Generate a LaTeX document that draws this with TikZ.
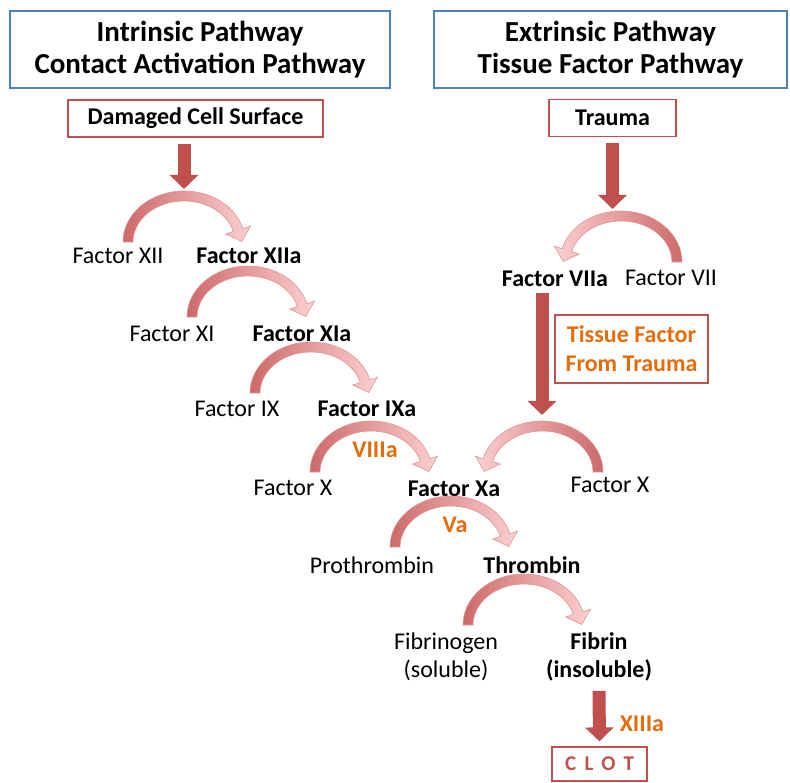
\documentclass[tikz,border=0pt]{standalone}
\usepackage{fontspec}
\setmainfont{Carlito}
\usetikzlibrary{arrows.meta,calc}
\definecolor{cblue}{RGB}{79,129,189}
\definecolor{cred}{RGB}{192,80,77}
\definecolor{corange}{RGB}{228,108,10}
\definecolor{carcdark}{RGB}{205,105,105}
\definecolor{carclight}{RGB}{252,208,208}
\definecolor{carcedge}{RGB}{222,150,150}

\tikzset{
  arcshade/.style={left color=carcdark, right color=carclight},
  arcmirror/.style={xscale=-1, arcshade/.style={left color=carclight, right color=carcdark}},
  bend/.pic={
    \shade[arcshade, draw=carcedge, line width=0.6pt]
      (-5,0) arc[start angle=180, end angle=15, x radius=61, y radius=51]
      -- (122.5,15.9) -- (113.8,0.5) -- (97.7,7.9) -- (105.3,10.6)
      arc[start angle=15, end angle=180, x radius=51, y radius=41] -- cycle;
    \coordinate (-top) at (56,51);
  }
}

\begin{document}
\begin{tikzpicture}[x=1pt, y=1pt,
    title/.style={draw=cblue, line width=1.6pt, minimum height=77pt, align=center,
      font=\bfseries\fontsize{29}{32}\selectfont},
    cause/.style={draw=cred, line width=1.2pt, minimum height=37pt,
      font=\bfseries\fontsize{24}{29}\selectfont},
    factor/.style={anchor=base, inner sep=2pt, align=center, font=\fontsize{24}{28}\selectfont},
    active/.style={factor, font=\bfseries\fontsize{24}{28}\selectfont},
    tag/.style={anchor=base, inner sep=2pt, text=corange, font=\bfseries\fontsize{24}{29}\selectfont},
    blockarrow/.style={draw=cred, line width=13pt, -{Triangle[length=14pt, width=28pt]}}]
  \useasboundingbox (0,0) rectangle (790,-783);

  % pathway headers
  \node[title, minimum width=380pt] (intr) at (200,-49.5) {Intrinsic Pathway\\Contact Activation Pathway};
  \node[title, minimum width=353pt] (extr) at (610.5,-49.5) {Extrinsic Pathway\\Tissue Factor Pathway};
  \node[cause, minimum width=255pt] (dcs) at (195.5,-118.5) {Damaged Cell Surface};
  \node[cause, minimum width=127pt] (trauma) at (612.5,-118) {Trauma};

  % intrinsic cascade
  \node[factor] (xii) at (118,-264) {Factor XII};
  \node[active] (xiia) at (249,-264) {Factor XIIa};
  \node[factor] (xi) at (172,-342) {Factor XI};
  \node[active] (xia) at (302,-342) {Factor XIa};
  \node[factor] (ix) at (237,-417) {Factor IX};
  \node[active] (ixa) at (367,-417) {Factor IXa};
  \node[factor] (xl) at (293,-495) {Factor X};
  \node[active] (xa) at (454,-496) {Factor Xa};
  \node[tag] (viiia) at (375,-457) {VIIIa};

  % extrinsic cascade
  \node[active] (viia) at (555,-287) {Factor VIIa};
  \node[factor] (vii) at (671,-286) {Factor VII};
  \node[factor] (xr) at (610,-493) {Factor X};
  \node[draw=cred, line width=1.2pt, minimum width=153pt, minimum height=68pt, align=center,
    text=corange, font=\bfseries\fontsize{24}{29}\selectfont] (tissue) at (631.5,-349) {Tissue Factor\\From Trauma};

  % common pathway
  \node[tag] (va) at (455,-532) {Va};
  \node[factor] (proth) at (372,-573) {Prothrombin};
  \node[active] (thromb) at (532,-573) {Thrombin};
  \node[factor] (fbg) at (446,-677) {Fibrinogen\\(soluble)};
  \node[active] (fibrin) at (599,-677) {Fibrin\\(insoluble)};
  \node[draw=cred, line width=1.2pt, minimum width=95pt, minimum height=34pt, text=cred,
    font=\bfseries\fontsize{21}{25}\selectfont\addfontfeatures{LetterSpace=40}] (clot) at (599.5,-764) {CLOT};

  % activation arcs
  \pic (xiiarc) at ([shift={(10pt,22pt)}]xii.base) {bend};
  \pic (xiarc) at ([shift={(20pt,25pt)}]xi.base) {bend};
  \pic (ixarc) at ([shift={(18pt,24pt)}]ix.base) {bend};
  \pic (xlarc) at ([shift={(22pt,23pt)}]xl.base) {bend};
  \pic (protharc) at ([shift={(23pt,26pt)}]proth.base) {bend};
  \pic (fbgarc) at ([shift={(22pt,52pt)}]fbg.base) {bend};
  \pic[arcmirror] (viiarc) at ([shift={(6pt,24pt)}]vii.base) {bend};
  \pic[arcmirror] (xrarc) at ([shift={(-12pt,21pt)}]xr.base) {bend};

  % block arrows
  \draw[blockarrow] ($(dcs.south -| xiiarc-top)+(0,-6pt)$) -- ($(xiiarc-top)+(0,2pt)$);
  \draw[blockarrow] ($(trauma.south)+(0,-6pt)$) -- ($(trauma.south |- viiarc-top)+(0,2pt)$);
  \draw[blockarrow] ($(viia.south -| xrarc-top)+(0,-4pt)$) -- ($(xrarc-top)+(0,6pt)$);
  \draw[blockarrow] ($(fibrin.south)+(0,-8pt)$) -- node[tag, anchor=west, xshift=12pt, yshift=-8pt] (xiiia) {XIIIa} ($(clot.north)+(0,5pt)$);
\end{tikzpicture}
\end{document}
